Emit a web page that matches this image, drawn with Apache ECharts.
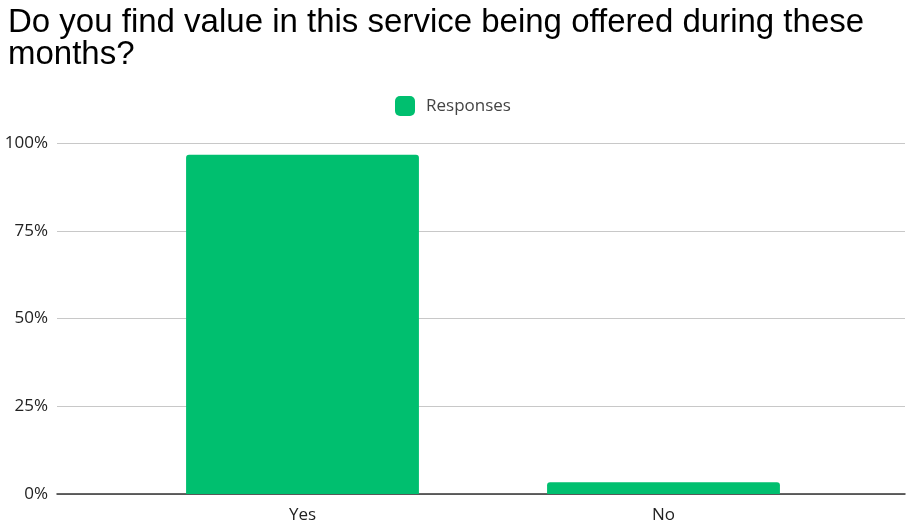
<!DOCTYPE html>
<html><head><meta charset="utf-8">
<script src="https://cdn.jsdelivr.net/npm/echarts@6/dist/echarts.min.js"></script>
<style>html,body{margin:0;padding:0;background:#fff}#c{width:906px;height:523px}</style>
</head><body><div id="c"></div>
<script>
const categories = ['Yes', 'No'];
const responses = [96.67, 3.33];
const yTicks = [0, 25, 50, 75, 100];
const seriesName = 'Responses';
const titleText = 'Do you find value in this service being offered during these\nmonths?';

const chart = echarts.init(document.getElementById('c'));
const lblFont = '"Open Sans", "Noto Sans", sans-serif';
chart.setOption({
  animation: false,
  title: {
    text: titleText, left: 3, top: 2,
    textStyle: {fontFamily: '"Liberation Sans", Arial, sans-serif', fontSize: 33, fontWeight: 'normal', color: '#000', lineHeight: 32}
  },
  legend: {
    top: 91, left: 390, itemWidth: 20, itemHeight: 20, itemGap: 10,
    textStyle: {fontFamily: lblFont, fontSize: 17, color: '#444', padding: [0, 0, 0, 6]},
    data: [{name: seriesName, icon: 'roundRect'}]
  },
  grid: [
    {left: 57, right: 1, top: 143, bottom: 29, containLabel: false, outerBoundsMode: 'none'},
    {left: 122, right: 62, top: 143, bottom: 29, containLabel: false, outerBoundsMode: 'none'}
  ],
  xAxis: [
    {gridIndex: 0, type: 'category', data: categories, show: true,
     axisLine: {show: true, lineStyle: {color: '#333', width: 1.5}},
     axisTick: {show: false}, axisLabel: {show: false}},
    {gridIndex: 1, type: 'category', data: categories,
     axisLine: {show: false}, axisTick: {show: false},
     axisLabel: {fontFamily: lblFont, fontSize: 17, color: '#222', margin: 13}}
  ],
  yAxis: [
    {gridIndex: 0, type: 'value', min: yTicks[0], max: yTicks[yTicks.length-1], interval: 25,
     axisLine: {show: false}, axisTick: {show: false},
     splitLine: {lineStyle: {color: '#c8c8c8'}},
     axisLabel: {fontFamily: lblFont, fontSize: 17, color: '#222', margin: 9, formatter: v => v + '%'}},
    {gridIndex: 1, type: 'value', min: yTicks[0], max: yTicks[yTicks.length-1], interval: 25, show: false}
  ],
  series: [{
    name: seriesName, type: 'bar', xAxisIndex: 1, yAxisIndex: 1,
    data: responses, barWidth: '64.5%',
    itemStyle: {color: '#00bf6f', borderRadius: [3, 3, 0, 0]},
    z: 1
  }]
});
</script></body></html>
